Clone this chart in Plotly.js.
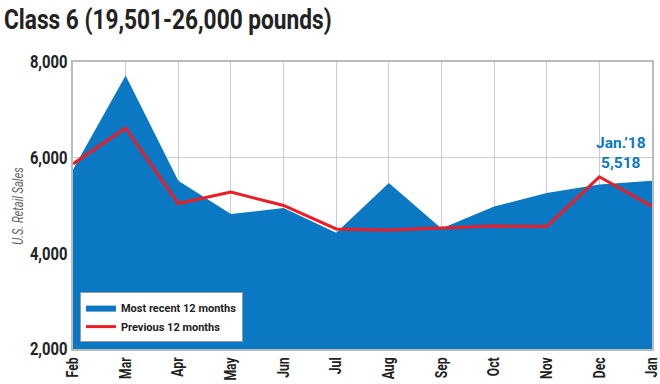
<!DOCTYPE html>
<html><head><meta charset="utf-8">
<script src="https://cdn.plot.ly/plotly-3.0.1.min.js"></script>
<style>html,body{margin:0;padding:0;background:#fff;}#c{width:660px;height:384px;}</style>
</head><body><div id="c"></div>
<script>
const months = ["Feb","Mar","Apr","May","Jun","Jul","Aug","Sep","Oct","Nov","Dec","Jan"];
const recent = [5750, 7720, 5520, 4820, 4950, 4430, 5470, 4520, 4980, 5260, 5440, 5518];
const previous = [5870, 6620, 5040, 5280, 5000, 4510, 4490, 4530, 4570, 4560, 5600, 4980];
const yTicks = [2000, 4000, 6000, 8000];
const FONT = 'Roboto, "DejaVu Sans", sans-serif';
const data = [
  {x: months, y: recent, type: 'scatter', mode: 'lines', fill: 'tozeroy',
   fillcolor: '#0a78c2', line: {width: 0, color: '#0a78c2'}, name: 'Most recent 12 months'},
  {x: months, y: previous, type: 'scatter', mode: 'lines',
   line: {width: 3, color: '#ee1c25'}, name: 'Previous 12 months'}
];
const layout = {
  width: 660, height: 384,
  margin: {l: 73, r: 8, t: 62, b: 35},
  paper_bgcolor: '#fff', plot_bgcolor: '#fff',
  font: {family: FONT, color: '#222'},
  title: {text: '<b>Class 6 (19,501-26,000 pounds)</b>', x: 0.006, xanchor: 'left', y: 0.95, yanchor: 'middle',
          font: {family: FONT, size: 27, color: '#222'}},
  xaxis: {type: 'category', range: [0, 11], showgrid: true, gridcolor: '#cccccc', gridwidth: 1,
          showline: true, linecolor: '#bbbbbb', linewidth: 2, mirror: true, zeroline: false,
          ticks: '', tickangle: -90, tickfont: {family: FONT, size: 16, color: '#222', weight: 'bold'}},
  yaxis: {range: [2000, 8000], tickvals: yTicks, tickformat: ',', showgrid: true, gridcolor: '#cccccc',
          showline: true, linecolor: '#bbbbbb', linewidth: 2, mirror: true, zeroline: false, ticks: '',
          tickfont: {family: FONT, size: 18, color: '#222', weight: 'bold'}},
  showlegend: true,
  legend: {x: 0.012, y: 0.024, xanchor: 'left', yanchor: 'bottom', bgcolor: '#fff', bordercolor: '#999', borderwidth: 1,
           font: {family: FONT, size: 11, color: '#222', weight: 'bold'}, tracegroupgap: 0, itemwidth: 30},
  annotations: [
    {x: months[11], y: recent[11], xref: 'x', yref: 'y', text: "<b>Jan.’18<br>5,518</b>", showarrow: false,
     xanchor: 'right', yanchor: 'bottom', xshift: -4, yshift: 7, align: 'center',
     font: {family: FONT, size: 15.5, color: '#0a78c2'}},
    {x: -0.095, y: 0.5, xref: 'paper', yref: 'paper', text: '<i>U.S. Retail Sales</i>', showarrow: false,
     textangle: -90, xanchor: 'center', yanchor: 'middle', font: {family: FONT, size: 15, color: '#666'}}
  ]
};
function squeeze(root, sel, f) {
  root.querySelectorAll(sel).forEach(t => {
    const w = t.getComputedTextLength();
    if (w > 0) { t.setAttribute('textLength', (w * f).toFixed(1)); t.setAttribute('lengthAdjust', 'spacingAndGlyphs'); }
  });
}
Plotly.newPlot('c', data, layout, {displayModeBar: false, staticPlot: true}).then(gd => {
  squeeze(gd, '.gtitle', 0.84);
  squeeze(gd, '.ytick text', 0.82);
  squeeze(gd, '.xtick text', 0.76);
  const anns = gd.querySelectorAll('.annotation-text');
  if (anns.length > 1) {
    const t = anns[1]; const w = t.getComputedTextLength();
    t.setAttribute('textLength', (w * 0.74).toFixed(1)); t.setAttribute('lengthAdjust', 'spacingAndGlyphs');
  }
});
</script></body></html>
